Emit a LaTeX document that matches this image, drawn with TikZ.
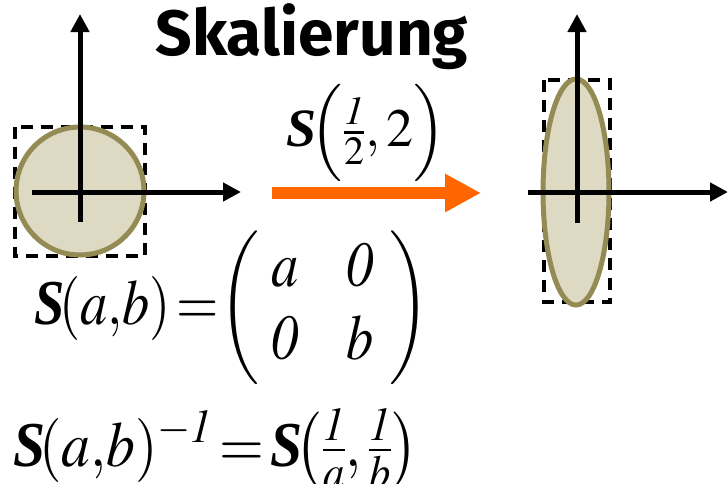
\documentclass[tikz,border=0pt]{standalone}
\usepackage{amsmath}
\usepackage{graphicx}
\usepackage{mathptmx}
\usepackage[no-math]{fontspec}
\setmainfont{Liberation Serif}
\newfontfamily\titlefont{Fira Sans}
\usetikzlibrary{arrows.meta,positioning}

\definecolor{shapefill}{HTML}{DDD9C3}
\definecolor{shapeline}{HTML}{948A54}
\definecolor{maporange}{HTML}{FF6600}
\newcommand{\bS}{\textbf{\textit{S}}}

\begin{document}
\begin{tikzpicture}[x=1pt, y=-1pt,
    axis/.style={line width=5pt, -{Triangle[length=18pt,width=18pt]}},
    dashbox/.style={line width=3.5pt, dash pattern=on 12pt off 8pt},
    blob/.style={fill=shapefill, draw=shapeline, line width=5pt},
    every node/.style={inner sep=0pt, outer sep=0pt}
]
    \useasboundingbox (0,0) rectangle (727,483);

    % Original: unit circle
    \draw[dashbox] (15,127) rectangle (145,256);
    \draw[blob] (80,191) circle (64);
    \coordinate (lx0) at (32,192);  \coordinate (lx1) at (241,192);
    \coordinate (ly0) at (80,222);  \coordinate (ly1) at (80,14);
    \draw[axis] (lx0) -- (lx1);
    \draw[axis] (ly0) -- (ly1);

    % Mapping arrow
    \coordinate (m0) at (272,193);
    \coordinate (m1) at (481,193);
    \draw[maporange, line width=12pt, -{Triangle[length=36pt,width=36pt]}] (m0) -- (m1);
    \node (map) [anchor=base] at (366,146) {\fontsize{54}{58}\selectfont $\bS\!\Bigl(\tfrac{\mathit{1}}{2},2\Bigr)$};

    % Result: scaled ellipse
    \draw[dashbox] (544,80) rectangle (610,302);
    \draw[blob] (576,192) ellipse (33 and 113);
    \coordinate (rx0) at (528,192); \coordinate (rx1) at (728,192);
    \coordinate (ry0) at (577,223); \coordinate (ry1) at (577,14);
    \draw[axis] (rx0) -- (rx1);
    \draw[axis] (ry0) -- (ry1);

    % Title and formulas
    \node (title) [anchor=base] at (312,55) {\titlefont\fontsize{64}{68}\selectfont\bfseries Skalierung};
    \node (smatrix) at (232,308) {\scalebox{0.85}[1]{\fontsize{64}{64}\selectfont
        \renewcommand{\arraystretch}{1.14}%
        $\bS\!(a,\!b)\!=\!\!\left(\begin{array}{@{\hspace{15pt}}c@{\hspace{56pt}}c@{\hspace{18pt}}}
            a & \mathit{0} \\ \mathit{0} & b \end{array}\right)$}};
    \node (inverse) [anchor=base] at (216,466) {\scalebox{0.9}[1]{\fontsize{64}{68}\selectfont
        $\bS\!(a,\!b)^{-\mathit{1}}\!=\!\bS\!\bigl(\tfrac{\mathit{1}}{a},\tfrac{\mathit{1}}{b}\bigr)$}};
\end{tikzpicture}
\end{document}
